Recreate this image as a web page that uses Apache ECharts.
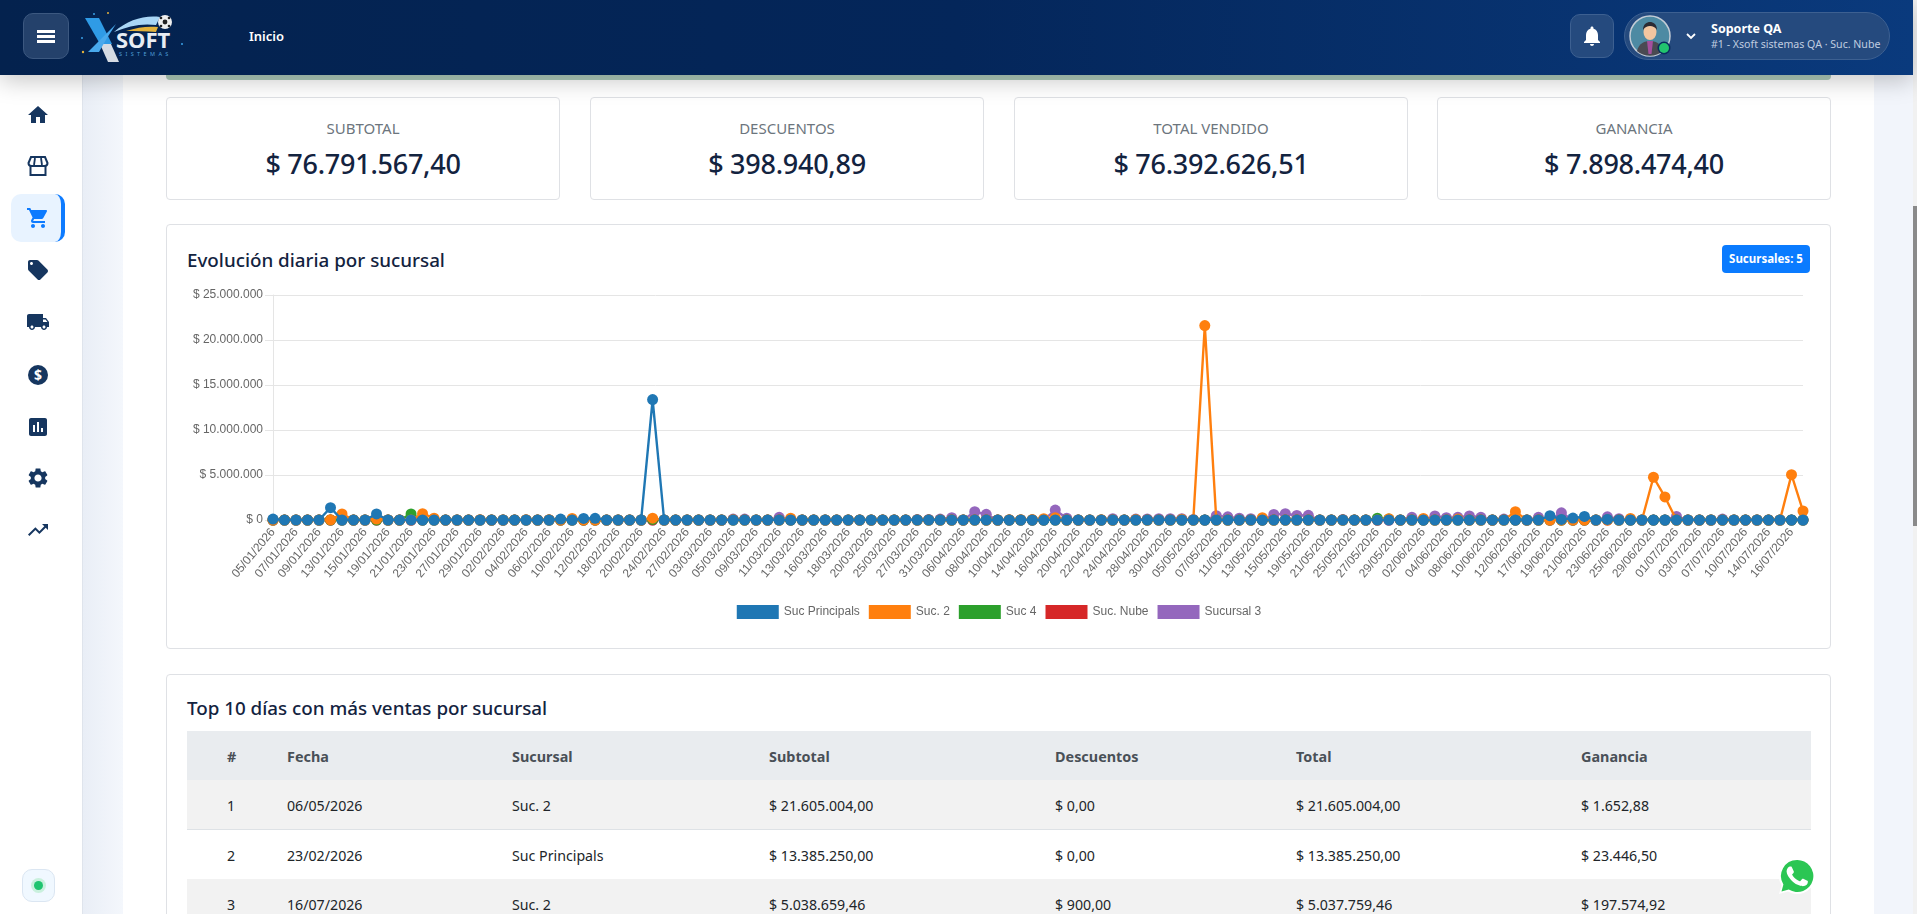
<!DOCTYPE html>
<html lang="es">
<head>
<meta charset="utf-8">
<title>Evolución diaria por sucursal</title>
<script src="https://cdn.jsdelivr.net/npm/echarts@6/dist/echarts.min.js"></script>
<style>
html, body { margin: 0; padding: 0; width: 1917px; height: 914px; overflow: hidden; background: #fff; font-family: "Noto Sans", sans-serif; color: #212529; }
.abs, .card, .t { position: absolute; }
.t { white-space: nowrap; }
.topbar { position: absolute; left: 0; top: 0; width: 1913px; height: 75px; background: linear-gradient(90deg, #04224e 0%, #04265a 50%, #0a3a7d 100%); z-index: 5; box-shadow: 0 6px 22px rgba(0,0,0,.22); }
.side { position: absolute; left: 0; top: 0; width: 82px; height: 914px; background: #fff; border-right: 1px solid #dfe4ec; z-index: 2; }
.gutter { position: absolute; left: 83px; top: 0; width: 40px; height: 914px; background: linear-gradient(90deg, #e9eef6, #f4f7fc); }
.gutter2 { position: absolute; left: 1874px; top: 0; width: 39px; height: 914px; background: #f2f5fb; }
.card { background: #fff; border: 1px solid #dfe1e5; border-radius: 4px; box-sizing: border-box; }
.kpi-label { position: absolute; left: 0; right: 0; top: 20px; text-align: center; font-size: 15px; color: #6c757d; }
.kpi-value { position: absolute; left: 0; right: 0; top: 47px; text-align: center; font-size: 27px; font-weight: 500; letter-spacing: -.25px; color: #13233f; }
.card-title { font-size: 18.8px; font-weight: 500; color: #13233f; }
.side svg { position: absolute; left: 26px; width: 24px; height: 24px; fill: #16365f; }
.row { position: absolute; left: 187px; width: 1624px; box-sizing: border-box; border-bottom: 1px solid #dee2e6; }
.cell { position: absolute; white-space: nowrap; font-size: 14px; transform: translateY(-50%); }
</style>
</head>
<body>
<div class="gutter"></div>
<div class="gutter2"></div>
<div class="abs" style="left:1913px;top:0;width:4px;height:914px;background:#f1f1f1"></div>
<div class="abs" style="left:1913px;top:206px;width:4px;height:320px;background:#8a8a8a"></div>
<div class="abs" style="left:166px;top:60px;width:1665px;height:20px;background:#afccbb;border-radius:0 0 4px 4px"></div>

<div class="side">
  <svg style="top:103px" viewBox="0 0 24 24"><path d="M10 20v-6h4v6h5v-8h3L12 3 2 12h3v8z"/></svg>
  <svg style="top:154px" viewBox="0 0 24 24"><path d="M5 3h14l2.5 6a3 3 0 0 1-3 3h-13a3 3 0 0 1-3-3z" fill="none" stroke="#16365f" stroke-width="2"/><path d="M9 4l-1 7M15 4l1 7" stroke="#16365f" stroke-width="1.8"/><path d="M4.5 12v9h15v-9" fill="none" stroke="#16365f" stroke-width="2"/></svg>
  <div class="abs" style="left:11px;top:194px;width:54px;height:48px;background:#e8f3ff;border-radius:10px;border-right:4px solid #0d7bff;box-sizing:border-box"></div>
  <svg style="top:206px;fill:#0d7bff" viewBox="0 0 24 24"><path d="M7 18c-1.1 0-1.99.9-1.99 2S5.9 22 7 22s2-.9 2-2-.9-2-2-2zM1 2v2h2l3.6 7.59-1.35 2.45c-.16.28-.25.61-.25.96 0 1.1.9 2 2 2h12v-2H7.42c-.14 0-.25-.11-.25-.25l.03-.12.9-1.63h7.45c.75 0 1.41-.41 1.75-1.03l3.58-6.49c.08-.14.12-.31.12-.48 0-.55-.45-1-1-1H5.21l-.94-2H1zm16 16c-1.1 0-1.99.9-1.99 2s.89 2 1.99 2 2-.9 2-2-.9-2-2-2z"/></svg>
  <svg style="top:258px" viewBox="0 0 24 24"><path d="M21.41 11.58l-9-9C12.05 2.22 11.55 2 11 2H4c-1.1 0-2 .9-2 2v7c0 .55.22 1.05.59 1.42l9 9c.36.36.86.58 1.41.58.55 0 1.05-.22 1.41-.59l7-7c.37-.36.59-.86.59-1.41 0-.55-.23-1.06-.59-1.42zM5.5 7C4.67 7 4 6.33 4 5.5S4.67 4 5.5 4 7 4.67 7 5.5 6.33 7 5.5 7z"/></svg>
  <svg style="top:310px" viewBox="0 0 24 24"><path d="M20 8h-3V4H3c-1.1 0-2 .9-2 2v11h2c0 1.66 1.34 3 3 3s3-1.34 3-3h6c0 1.66 1.34 3 3 3s3-1.34 3-3h2v-5l-3-4zM6 18.5c-.83 0-1.5-.67-1.5-1.5s.67-1.5 1.5-1.5 1.5.67 1.5 1.5-.67 1.5-1.5 1.5zm13.5-9l1.96 2.5H17V9.5h2.5zm-1.5 9c-.83 0-1.5-.67-1.5-1.5s.67-1.5 1.5-1.5 1.5.67 1.5 1.5-.67 1.5-1.5 1.5z"/></svg>
  <svg style="top:363px" viewBox="0 0 24 24"><circle cx="12" cy="12" r="10"/><text x="12" y="17" text-anchor="middle" font-size="14" font-weight="700" fill="#fff">$</text></svg>
  <svg style="top:415px" viewBox="0 0 24 24"><path d="M19 3H5c-1.1 0-2 .9-2 2v14c0 1.1.9 2 2 2h14c1.1 0 2-.9 2-2V5c0-1.1-.9-2-2-2zM9 17H7v-7h2v7zm4 0h-2V7h2v10zm4 0h-2v-4h2v4z"/></svg>
  <svg style="top:466px" viewBox="0 0 24 24"><path d="M19.14 12.94c.04-.3.06-.61.06-.94 0-.32-.02-.64-.07-.94l2.03-1.58c.18-.14.23-.41.12-.61l-1.92-3.32c-.12-.22-.37-.29-.59-.22l-2.39.96c-.5-.38-1.03-.7-1.62-.94l-.36-2.54c-.04-.24-.24-.41-.48-.41h-3.84c-.24 0-.43.17-.47.41l-.36 2.54c-.59.24-1.13.57-1.62.94l-2.39-.96c-.22-.08-.47 0-.59.22L2.74 8.87c-.12.21-.08.47.12.61l2.03 1.58c-.05.3-.09.63-.09.94s.02.64.07.94l-2.03 1.58c-.18.14-.23.41-.12.61l1.92 3.32c.12.22.37.29.59.22l2.39-.96c.5.38 1.03.7 1.62.94l.36 2.54c.05.24.24.41.48.41h3.84c.24 0 .44-.17.47-.41l.36-2.54c.59-.24 1.13-.56 1.62-.94l2.39.96c.22.08.47 0 .59-.22l1.92-3.32c.12-.22.07-.47-.12-.61l-2.01-1.58zM12 15.6c-1.98 0-3.6-1.62-3.6-3.6s1.62-3.6 3.6-3.6 3.6 1.62 3.6 3.6-1.62 3.6-3.6 3.6z"/></svg>
  <svg style="top:518px" viewBox="0 0 24 24"><path d="M16 6l2.29 2.29-4.88 4.88-4-4L2 16.59 3.41 18l6-6 4 4 6.3-6.29L22 12V6z"/></svg>
  <div class="abs" style="left:22px;top:869px;width:33px;height:33px;background:#f0f8ff;border:1px solid #dbe6f2;border-radius:10px;box-sizing:border-box"></div>
  <div class="abs" style="left:31px;top:878px;width:15px;height:15px;background:#c9f0dd;border-radius:50%"></div>
  <div class="abs" style="left:34px;top:881px;width:9px;height:9px;background:#1fc46f;border-radius:50%"></div>
</div>

<div class="topbar">
  <div class="abs" style="left:23px;top:13px;width:46px;height:46px;box-sizing:border-box;background:#24416b;border:1px solid #3c5880;border-radius:10px"></div>
  <div class="abs" style="left:37px;top:30px;width:18px;height:2.5px;background:#fff"></div>
  <div class="abs" style="left:37px;top:35px;width:18px;height:2.5px;background:#fff"></div>
  <div class="abs" style="left:37px;top:40px;width:18px;height:2.5px;background:#fff"></div>
  <svg class="abs" style="left:78px;top:8px" width="112" height="60" viewBox="0 0 112 60">
    <path d="M22 36h11l8 18H30z" fill="#d5dbe3"/>
    <path d="M7 10h14l13 26H22z" fill="#2f9be6"/>
    <path d="M38 16l-9 14-8 14H10z" fill="#49a9ec"/>
    <path d="M36 24C50 12 66 7 82 9l-4 8C64 15 50 18 36 24z" fill="#a9d6f6"/>
    <path d="M48 23C60 19 70 18 80 19l-2 5C68 23 58 23 48 23z" fill="#e3b23c"/>
    <circle cx="87" cy="14" r="7" fill="#eee"/>
    <circle cx="87" cy="14" r="2.4" fill="#222"/>
    <circle cx="83" cy="10" r="1.3" fill="#222"/><circle cx="91" cy="10" r="1.3" fill="#222"/><circle cx="83" cy="18" r="1.3" fill="#222"/><circle cx="91" cy="18" r="1.3" fill="#222"/>
    <circle cx="16" cy="6" r="1" fill="#3aa0e6"/><circle cx="30" cy="5" r="1" fill="#e3b23c"/><circle cx="4" cy="30" r="1" fill="#3aa0e6"/><circle cx="5" cy="44" r="1.2" fill="#e3b23c"/><circle cx="104" cy="36" r="1" fill="#3aa0e6"/>
    <text x="38" y="40" font-family="Noto Sans" font-size="22" font-weight="700" fill="#e8edf3">SOFT</text>
    <text x="41" y="48" font-family="Noto Sans" font-size="5.5" letter-spacing="3.4" fill="#4f9fd8">SISTEMAS</text>
  </svg>
  <div class="t" style="left:249px;top:27px;font-size:13px;font-weight:600;color:#fff">Inicio</div>
  <div class="abs" style="left:1570px;top:14px;width:44px;height:44px;box-sizing:border-box;background:#254a7e;border:1px solid #3d6091;border-radius:10px"></div>
  <svg class="abs" style="left:1580px;top:24px;fill:#fff" width="24" height="24" viewBox="0 0 24 24"><path d="M12 22c1.1 0 2-.9 2-2h-4c0 1.1.9 2 2 2zm6-6v-5c0-3.07-1.63-5.64-4.5-6.32V4c0-.83-.67-1.5-1.5-1.5s-1.5.67-1.5 1.5v.68C7.64 5.36 6 7.92 6 11v5l-2 2v1h16v-1l-2-2z"/></svg>
  <div class="abs" style="left:1624px;top:12px;width:266px;height:48px;box-sizing:border-box;background:#254a7e;border:1px solid #3d6091;border-radius:24px"></div>
  <svg class="abs" style="left:1629px;top:15px" width="44" height="44" viewBox="0 0 44 44">
    <circle cx="21" cy="21" r="20" fill="#4d8aa3" stroke="#c3ccd6" stroke-width="1.5"/>
    <path d="M8 36c2-8 8-10 13-10s11 2 13 10a20 20 0 0 1-26 0z" fill="#4a4a52"/>
    <path d="M18 26h6l-1.5 13h-3z" fill="#a44f9e"/>
    <ellipse cx="21" cy="17" rx="6.5" ry="8" fill="#f2c6a0"/>
    <path d="M14 15c0-6 4-8 7-8s7 2 7 8c-2-3-4-4-7-4s-5 1-7 4z" fill="#2b2b33"/>
    <circle cx="35" cy="33" r="6.5" fill="#0a2c5e"/>
    <circle cx="35" cy="33" r="5" fill="#22c46e"/>
  </svg>
  <svg class="abs" style="left:1685px;top:31px" width="12" height="10" viewBox="0 0 12 10"><path d="M2 3l4 4 4-4" fill="none" stroke="#fff" stroke-width="1.8"/></svg>
  <div class="t" style="left:1711px;top:20px;font-size:12.5px;font-weight:700;color:#fff">Soporte QA</div>
  <div class="t" style="left:1711px;top:37px;font-size:10.6px;color:#c0cde0">#1 - Xsoft sistemas QA · Suc. Nube</div>
</div>

<div id="kpis"></div>

<div class="card" style="left:166px;top:224px;width:1665px;height:425px"></div>
<div class="t card-title" style="left:187px;top:247px">Evolución diaria por sucursal</div>
<div class="abs" style="left:1722px;top:245px;width:88px;height:28px;background:#0a7bff;border-radius:4px;color:#fff;font-size:11.5px;font-weight:700;text-align:center;line-height:28px">Sucursales: 5</div>
<div id="chart" class="abs" style="left:187px;top:285px;width:1624px;height:355px"></div>

<div class="card" style="left:166px;top:674px;width:1665px;height:260px"></div>
<div class="t card-title" style="left:187px;top:695px">Top 10 días con más ventas por sucursal</div>
<div id="table"></div>

<svg class="abs" style="left:1777px;top:856px;z-index:4" width="40" height="40" viewBox="0 0 40 40">
  <path d="M20 2a18 18 0 0 0-15.4 27.3L2 38l9-2.500A18 18 0 1 0 20 2z" fill="#fff"/>
  <path d="M20 4a16 16 0 0 0-13.600 24.400L4.500 35.500l7.300-2A16 16 0 1 0 20 4z" fill="#2bc653"/>
  <path d="M14.500 11.500c-.5-1-1-1-1.500-1h-1.300c-.5 0-1.200.2-1.800.9-.6.700-2.400 2.300-2.400 5.500s2.400 6.400 2.700 6.800c.3.400 4.600 7.400 11.400 10" fill="none"/>
  <path d="M15 11.500c-.4-.9-.8-.9-1.200-.9h-1c-.4 0-.9.100-1.400.7-.5.600-1.800 1.800-1.800 4.300s1.900 5 2.100 5.300c.3.400 3.700 5.800 9 7.900 4.400 1.700 5.300 1.400 6.300 1.300 1-.1 3.100-1.300 3.500-2.500.4-1.200.4-2.300.3-2.500-.1-.2-.5-.4-1-.6l-3.500-1.700c-.5-.2-.8-.3-1.200.2l-1.700 2c-.3.300-.6.400-1.100.1-.5-.3-2.200-.8-4.100-2.500-1.500-1.400-2.600-3-2.900-3.500-.3-.5 0-.8.200-1l.8-.9c.3-.3.300-.5.500-.9.200-.4.100-.6 0-.9z" fill="#fff"/>
</svg>

<script>
var dias = [
  '05/01/2026','06/01/2026','07/01/2026','08/01/2026','09/01/2026','12/01/2026','13/01/2026','14/01/2026','15/01/2026','16/01/2026',
  '19/01/2026','20/01/2026','21/01/2026','22/01/2026','23/01/2026','26/01/2026','27/01/2026','28/01/2026','29/01/2026','30/01/2026',
  '02/02/2026','03/02/2026','04/02/2026','05/02/2026','06/02/2026','09/02/2026','10/02/2026','11/02/2026','12/02/2026','13/02/2026',
  '18/02/2026','19/02/2026','20/02/2026','23/02/2026','24/02/2026','25/02/2026','27/02/2026','02/03/2026','03/03/2026','04/03/2026',
  '05/03/2026','06/03/2026','09/03/2026','10/03/2026','11/03/2026','12/03/2026','13/03/2026','14/03/2026','16/03/2026','17/03/2026',
  '18/03/2026','19/03/2026','20/03/2026','23/03/2026','25/03/2026','26/03/2026','27/03/2026','30/03/2026','31/03/2026','01/04/2026',
  '06/04/2026','07/04/2026','08/04/2026','09/04/2026','10/04/2026','13/04/2026','14/04/2026','15/04/2026','16/04/2026','17/04/2026',
  '20/04/2026','21/04/2026','22/04/2026','23/04/2026','24/04/2026','27/04/2026','28/04/2026','29/04/2026','30/04/2026','04/05/2026',
  '05/05/2026','06/05/2026','07/05/2026','08/05/2026','11/05/2026','12/05/2026','13/05/2026','14/05/2026','15/05/2026','18/05/2026',
  '19/05/2026','20/05/2026','21/05/2026','22/05/2026','25/05/2026','26/05/2026','27/05/2026','28/05/2026','29/05/2026','01/06/2026',
  '02/06/2026','03/06/2026','04/06/2026','05/06/2026','08/06/2026','09/06/2026','10/06/2026','11/06/2026','12/06/2026','16/06/2026',
  '17/06/2026','18/06/2026','19/06/2026','20/06/2026','21/06/2026','22/06/2026','23/06/2026','24/06/2026','25/06/2026','26/06/2026',
  '29/06/2026','30/06/2026','01/07/2026','02/07/2026','03/07/2026','06/07/2026','07/07/2026','08/07/2026','10/07/2026','13/07/2026',
  '14/07/2026','15/07/2026','16/07/2026','17/07/2026'
]

var sucPrincipals = [
  100000,0,0,0,0,1370000,0,0,0,670000,
  0,0,0,0,0,0,0,0,0,0,
  0,0,0,0,0,100000,0,170000,190000,0,
  0,0,0,13385250,0,0,0,0,0,0,
  0,0,0,0,0,0,0,0,0,0,
  0,0,0,0,0,0,0,0,0,0,
  0,0,0,0,0,0,0,0,0,0,
  0,0,0,0,0,0,0,0,0,0,
  0,0,0,0,0,0,0,0,0,0,
  0,0,0,0,0,0,0,0,0,0,
  0,0,0,0,0,0,0,0,0,0,
  0,480000,60000,210000,400000,0,60000,0,0,0,
  0,0,0,0,0,0,0,0,0,0,
  0,0,0,0
]
var suc2 = [
  0,0,0,0,0,20000,680000,0,0,100000,
  0,0,0,700000,200000,0,0,0,30000,0,
  0,0,30000,0,30000,0,180000,0,0,0,
  0,0,0,200000,0,0,0,0,0,0,
  40000,0,0,0,0,200000,0,0,0,0,
  0,0,0,0,0,0,0,0,0,0,
  0,0,0,0,30000,40000,50000,150000,250000,0,
  0,0,30000,0,0,60000,0,0,0,80000,
  0,21605004,0,0,0,0,250000,0,0,0,
  0,0,0,0,0,0,0,150000,0,0,
  170000,0,0,100000,0,0,0,0,930000,0,
  0,0,0,0,0,0,0,0,180000,0,
  4750000,2560000,0,0,0,0,0,0,0,0,
  0,0,5038659,1000000
]
var suc4 = [
  0,0,0,0,0,0,0,0,0,0,
  0,0,670000,0,0,0,0,0,0,0,
  0,0,0,0,0,0,0,0,0,0,
  0,0,0,60000,0,0,0,0,0,0,
  0,0,0,0,0,0,0,0,0,0,
  0,0,0,0,0,0,0,0,0,0,
  0,0,0,0,0,0,0,0,0,0,
  0,0,0,0,0,0,0,0,0,0,
  0,0,0,0,0,0,0,0,0,0,
  0,0,0,0,0,0,200000,100000,0,0,
  0,0,0,0,0,0,0,0,0,0,
  0,0,0,0,0,0,30000,0,0,0,
  0,0,0,0,0,0,0,0,0,0,
  0,0,0,0
]
var sucNube = [
  0,0,0,0,0,0,0,0,0,0,
  0,0,0,0,0,0,0,0,0,0,
  0,0,0,0,0,0,0,0,0,0,
  0,0,0,0,0,0,0,0,0,0,
  0,0,0,0,0,0,0,0,0,0,
  0,0,0,0,0,0,0,0,0,0,
  0,0,0,0,0,0,0,0,0,0,
  0,0,0,0,0,0,0,0,0,0,
  0,0,0,0,0,0,0,0,0,0,
  0,0,0,0,0,0,0,0,0,0,
  0,0,0,0,0,0,0,0,0,0,
  0,0,0,0,0,0,0,0,0,0,
  0,0,0,0,0,0,0,0,0,0,
  0,0,0,0
]
var sucursal3 = [
  0,0,0,0,0,0,0,0,0,0,
  0,0,0,0,0,0,0,0,0,0,
  0,0,0,0,0,0,0,0,0,0,
  0,0,0,0,0,0,0,0,0,0,
  100000,100000,0,0,300000,0,0,0,0,0,
  0,0,0,0,0,0,50000,60000,100000,250000,
  0,930000,630000,0,0,0,0,0,1100000,200000,
  0,0,0,150000,0,100000,120000,150000,150000,150000,
  60000,0,480000,350000,200000,150000,0,620000,700000,500000,
  520000,0,0,50000,0,0,0,0,0,300000,
  0,450000,250000,300000,450000,300000,0,100000,0,0,
  300000,0,800000,0,0,0,350000,150000,0,0,
  0,0,400000,0,0,0,100000,0,0,0,
  0,0,0,0
]

var kpiNombres = ['SUBTOTAL', 'DESCUENTOS', 'TOTAL VENDIDO', 'GANANCIA']
var kpiValores = ['$ 76.791.567,40', '$ 398.940,89', '$ 76.392.626,51', '$ 7.898.474,40']
var kpiLeft = [166, 590, 1014, 1437]

var kpiHtml = ''
kpiNombres.forEach(function (n, i) {
  kpiHtml += '<div class="card" style="left:' + kpiLeft[i] + 'px;top:97px;width:394px;height:103px">' +
    '<div class="kpi-label">' + n + '</div><div class="kpi-value">' + kpiValores[i] + '</div></div>'
})
document.getElementById('kpis').innerHTML = kpiHtml

var tablaCols = ['#', 'Fecha', 'Sucursal', 'Subtotal', 'Descuentos', 'Total', 'Ganancia']
var tablaFilas = [
  ['1', '06/05/2026', 'Suc. 2', '$ 21.605.004,00', '$ 0,00', '$ 21.605.004,00', '$ 1.652,88'],
  ['2', '23/02/2026', 'Suc Principals', '$ 13.385.250,00', '$ 0,00', '$ 13.385.250,00', '$ 23.446,50'],
  ['3', '16/07/2026', 'Suc. 2', '$ 5.038.659,46', '$ 900,00', '$ 5.037.759,46', '$ 197.574,92']
]
var colX = [40, 100, 325, 582, 868, 1109, 1394]
var filaTop = [731, 780, 830, 879]

function filaHtml(celdas, top, h, bg, bold) {
  var s = '<div class="row" style="top:' + top + 'px;height:' + h + 'px;background:' + bg + '">'
  celdas.forEach(function (c, i) {
    s += '<div class="cell" style="left:' + colX[i] + 'px;top:' + (h / 2) + 'px;' +
      (bold ? 'font-size:14.4px;font-weight:700;color:#495057;' : 'font-size:14.2px;') + '">' + c + '</div>'
  })
  return s + '</div>'
}
var tablaHtml = filaHtml(tablaCols, filaTop[0], 50, '#e9ecef', true)
tablaFilas.forEach(function (f, i) {
  tablaHtml += filaHtml(f, filaTop[i + 1], 50, i % 2 == 0 ? '#f2f2f2' : '#fff', false)
})
document.getElementById('table').innerHTML = tablaHtml

var nombres = ['Suc Principals', 'Suc. 2', 'Suc 4', 'Suc. Nube', 'Sucursal 3']
var valores = [sucPrincipals, suc2, suc4, sucNube, sucursal3]
var colores = ['#1f77b4', '#ff7f0e', '#2ca02c', '#d62728', '#9467bd']

var myChart = echarts.init(document.getElementById('chart'))
var option = {
    animation: false,
    color: colores,
    textStyle: { fontFamily: '"Liberation Sans", Arial, sans-serif' },
    grid: { left: 86, right: 8, top: 10, height: 225 },
    legend: {
        top: 315,
        left: 'center',
        icon: 'rect',
        itemWidth: 42,
        itemHeight: 14,
        itemGap: 9,
        textStyle: { color: '#666', fontSize: 12 },
        data: nombres
    },
    xAxis: {
        type: 'category',
        boundaryGap: false,
        data: dias,
        axisTick: { show: false },
        axisLine: { lineStyle: { color: '#e5e5e5' } },
        axisLabel: { color: '#666', fontSize: 12, rotate: 50, interval: 1, margin: 10, hideOverlap: false }
    },
    yAxis: {
        type: 'value',
        min: 0,
        max: 25000000,
        interval: 5000000,
        axisLine: { show: true, lineStyle: { color: '#e5e5e5' } },
        axisTick: { show: true, length: 8, lineStyle: { color: '#e5e5e5' } },
        splitLine: { lineStyle: { color: '#e5e5e5' } },
        axisLabel: {
            color: '#666',
            fontSize: 12,
            margin: 10,
            formatter: function (v) {
                return '$ ' + String(v).replace(/\B(?=(\d{3})+$)/g, '.')
            }
        }
    },
    series: nombres.map(function (n, i) {
        return {
            name: n,
            type: 'line',
            data: valores[i],
            z: 10 - i,
            symbol: 'circle',
            symbolSize: 11,
            showAllSymbol: true,
            lineStyle: { width: 2.4 },
            itemStyle: { color: colores[i] }
        }
    })
}
myChart.setOption(option)
</script>
</body>
</html>
